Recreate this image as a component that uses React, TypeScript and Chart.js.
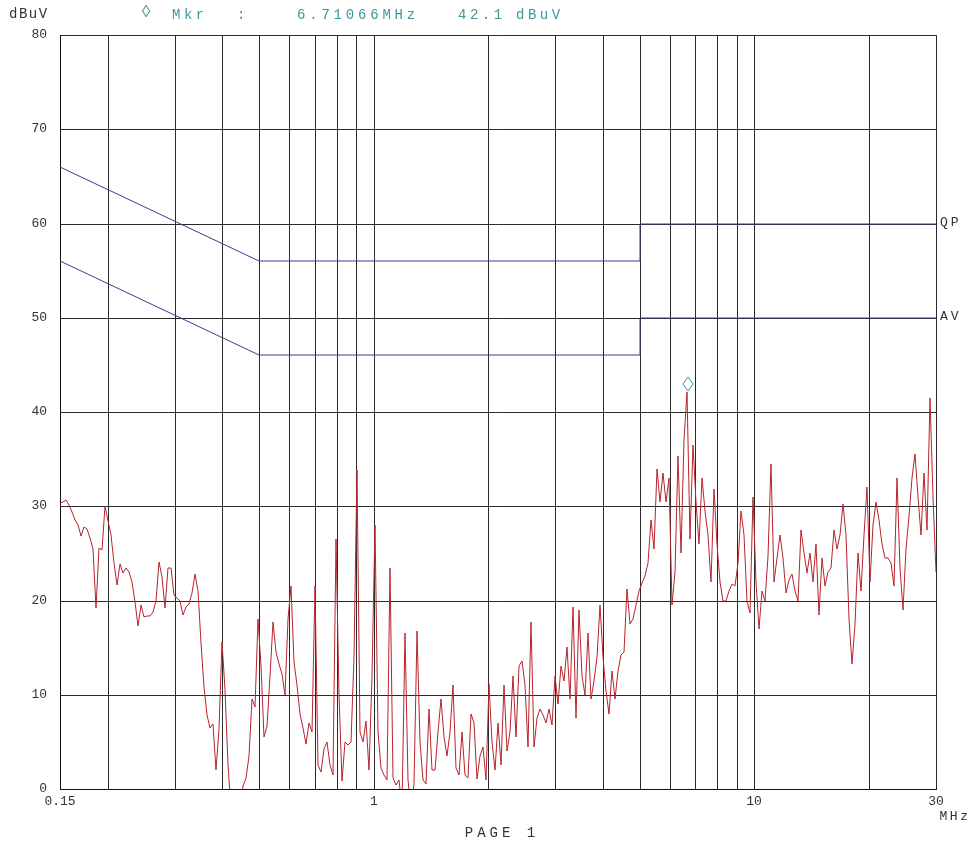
import { useEffect, useRef } from 'react';
import { Chart, registerables } from 'chart.js';

Chart.register(...registerables);

// Sweep definition of the receiver trace (log-stepped points between start and stop)
const SWEEP_START_MHZ = 0.15;
const SWEEP_STOP_MHZ = 30;

// Measured peak trace levels (dBuV), one per sweep point
const TRACE_LEVELS = [
  // 0.15 – ~0.36 MHz
  30.3, 30.5, 30.7, 30.1, 29.4, 28.5, 28.0, 26.8, 27.8, 27.6,
  26.6, 25.5, 19.2, 25.6, 25.4, 30.0, 28.4, 27.0, 24.0, 21.6,
  23.9, 22.9, 23.5, 23.0, 22.0, 19.8, 17.3, 19.5, 18.2, 18.4,
  18.4, 18.8, 20.0, 24.1, 22.5, 19.2, 23.4, 23.4, 20.6, 20.3,
  20.0, 18.5, 19.3, 19.6, 20.8, 22.8, 21.0, 15.5, 10.8,
  // ~0.37 – ~0.87 MHz
  7.8, 6.5, 6.9, 2.0, 6.4, 15.6, 10.5, 2.5, -2, -2,
  -2, -2, 0.3, 1.2, 3.5, 9.5, 8.7, 18.0, 13.0, 5.5,
  6.7, 12.0, 17.7, 14.5, 13.3, 12.2, 10.0, 18.0, 21.5, 13.5,
  11.0, 8.0, 6.5, 4.8, 7.0, 6.0, 21.5, 2.5, 1.8, 4.2,
  5.0, 2.5, 1.5, 26.5, 10.0, 0.8, 5.0, 4.7,
  // ~0.88 – ~2.1 MHz
  5.0, 14.0, 33.8, 6.0, 5.0, 7.2, 2.0, 12.0, 28.0, 6.0,
  2.2, 1.5, 1.0, 23.5, 1.2, 0.4, 1.0, -2, 16.6, 1.0,
  -2, 0.5, 16.8, 5.0, 1.0, 0.5, 8.5, 2.0, 2.0, 6.0,
  9.6, 5.5, 3.5, 6.0, 11.0, 2.2, 1.5, 6.0, 1.5, 1.2,
  8.0, 7.0, 1.1, 3.5, 4.5, 1.0, 11.1, 5.0, 2.0,
  // ~2.1 – ~5 MHz
  7.0, 2.5, 11.0, 4.0, 6.0, 12.0, 5.5, 13.0, 13.6, 11.0,
  4.5, 17.7, 4.5, 7.5, 8.5, 7.8, 7.0, 8.5, 6.8, 12.0,
  9.0, 13.0, 11.5, 15.1, 9.5, 19.3, 7.5, 19.0, 12.0, 10.0,
  16.6, 9.5, 11.5, 14.0, 19.5, 14.0, 10.4, 8.0, 12.5, 9.5,
  12.5, 14.2, 14.5, 21.2, 17.5, 18.0, 19.5, 21.0,
  // ~5 – ~12 MHz
  21.9, 22.6, 24.0, 28.5, 25.5, 34.0, 30.5, 33.5, 30.5, 33.0,
  19.5, 23.0, 35.3, 25.0, 37.0, 42.1, 26.5, 36.5, 30.4, 26.0,
  33.0, 29.5, 27.0, 22.0, 31.8, 26.0, 22.0, 20.0, 20.0, 21.0,
  21.8, 21.5, 24.0, 29.5, 27.0, 20.0, 18.7, 31.0, 22.0, 17.0,
  21.0, 20.0, 24.7, 34.5, 22.0, 24.5, 27.0, 24.5,
  // ~12 – 30 MHz
  20.8, 22.2, 22.8, 21.0, 20.0, 27.5, 25.0, 22.9, 25.0, 22.0,
  26.0, 18.5, 24.5, 21.5, 23.0, 23.5, 27.5, 25.5, 27.0, 30.2,
  27.0, 18.0, 13.3, 17.5, 25.0, 21.0, 27.0, 32.0, 22.0, 28.0,
  30.5, 28.5, 26.0, 24.5, 24.5, 24.0, 21.5, 33.0, 23.5, 19.0,
  25.5, 29.0, 33.0, 35.5, 31.0, 27.0, 33.5, 27.5, 41.5, 31.0,
  23.0,
];

// Limit lines (EN 55022 class B style)
const LIMIT_FREQ = [0.15, 0.5, 5, 5, 30];
const QP_LIMIT = [66, 56, 56, 60, 60];
const AV_LIMIT = [56, 46, 46, 50, 50];

// Marker
const MARKER_FREQ = 6.71066;
const MARKER_LEVEL = 42.1;

// Axis ticks
const X_GRID_TICKS = [
  0.15, 0.2, 0.3, 0.4, 0.5, 0.6, 0.7, 0.8, 0.9,
  1, 2, 3, 4, 5, 6, 7, 8, 9,
  10, 20, 30,
];
const X_LABELED_TICKS = [0.15, 1, 10, 30];
const Y_MIN = 0;
const Y_MAX = 80;
const Y_STEP = 10;

const MONO = "'Liberation Mono', 'DejaVu Sans Mono', monospace";
const TEAL = '#3f9898';
const TEXT = '#333333';

function sweepFrequencies(n: number): number[] {
  const out: number[] = [];
  const ratio = SWEEP_STOP_MHZ / SWEEP_START_MHZ;
  for (let i = 0; i < n; i++) out.push(SWEEP_START_MHZ * Math.pow(ratio, i / (n - 1)));
  return out;
}

const annotations = {
  id: 'emiAnnotations',
  afterDraw(chart: any) {
    const ctx = chart.ctx as CanvasRenderingContext2D;
    const xs = chart.scales.x;
    const ys = chart.scales.y;
    ctx.save();
    ctx.textBaseline = 'middle';

    const txt = (s: string, x: number, y: number, size: number, spacing: number, color: string, align: CanvasTextAlign = 'left') => {
      ctx.font = `${size}px ${MONO}`;
      (ctx as any).letterSpacing = `${spacing}px`;
      ctx.fillStyle = color;
      ctx.textAlign = align;
      ctx.fillText(s, x, y);
    };

    // header
    txt('dBuV', 9, 14, 14, 1.5, TEXT);
    txt('\u25CA', 141, 12, 17, 0, TEAL);
    txt('Mkr', 172, 15, 14, 3.5, TEAL);
    txt(':', 237, 15, 14, 0, TEAL);
    txt(`${MARKER_FREQ.toFixed(5)}MHz`, 297, 15, 14, 3.8, TEAL);
    txt(`${MARKER_LEVEL.toFixed(1)}`, 458, 15, 14, 3.5, TEAL);
    txt('dBuV', 516, 15, 14, 3.5, TEAL);

    // limit labels
    txt('QP', 940, ys.getPixelForValue(QP_LIMIT[QP_LIMIT.length - 1]) - 1, 13, 3, TEXT);
    txt('AV', 940, ys.getPixelForValue(AV_LIMIT[AV_LIMIT.length - 1]) - 1, 13, 3, TEXT);

    // unit and page
    txt('MHz', 955, 817, 13, 2.5, TEXT, 'center');
    txt('PAGE 1', 502, 833, 14, 4, TEXT, 'center');

    // marker diamond sitting on the marker level
    const mx = xs.getPixelForValue(MARKER_FREQ);
    const my = ys.getPixelForValue(MARKER_LEVEL);
    ctx.strokeStyle = TEAL;
    ctx.lineWidth = 1;
    ctx.beginPath();
    ctx.moveTo(mx, my - 1);
    ctx.lineTo(mx + 5, my - 8);
    ctx.lineTo(mx, my - 15);
    ctx.lineTo(mx - 5, my - 8);
    ctx.closePath();
    ctx.stroke();
    ctx.restore();
  },
};

export default function App() {
  const canvasRef = useRef<HTMLCanvasElement | null>(null);

  useEffect(() => {
    document.body.style.margin = '0';
    const canvas = canvasRef.current;
    if (!canvas) return;
    const freqs = sweepFrequencies(TRACE_LEVELS.length);
    const trace = TRACE_LEVELS.map((v, i) => ({ x: freqs[i], y: v }));
    const qp = LIMIT_FREQ.map((f, i) => ({ x: f, y: QP_LIMIT[i] }));
    const av = LIMIT_FREQ.map((f, i) => ({ x: f, y: AV_LIMIT[i] }));

    const chart = new Chart(canvas, {
      type: 'line',
      data: {
        datasets: [
          { label: 'QP', data: qp, borderColor: '#3b3b8e', borderWidth: 1, pointRadius: 0, tension: 0 },
          { label: 'AV', data: av, borderColor: '#3b3b8e', borderWidth: 1, pointRadius: 0, tension: 0 },
          { label: 'Trace', data: trace, borderColor: '#b8232b', borderWidth: 1, pointRadius: 0, tension: 0 },
        ],
      },
      options: {
        animation: false,
        responsive: false,
        devicePixelRatio: 1,
        parsing: false as any,
        normalized: true,
        layout: { padding: { top: 35, right: 33, left: 0, bottom: 0 } },
        plugins: { legend: { display: false }, tooltip: { enabled: false }, title: { display: false } },
        events: [],
        scales: {
          x: {
            type: 'logarithmic',
            min: SWEEP_START_MHZ,
            max: SWEEP_STOP_MHZ,
            alignToPixels: true,
            afterBuildTicks: (axis: any) => {
              axis.ticks = X_GRID_TICKS.map((v) => ({ value: v }));
            },
            afterFit: (scale: any) => {
              scale.height = 54;
            },
            grid: { color: '#2a2a2a', lineWidth: 1, drawTicks: false },
            border: { display: true, color: '#111', width: 1 },
            ticks: {
              autoSkip: false,
              maxRotation: 0,
              padding: 5,
              color: TEXT,
              font: { family: MONO, size: 13 },
              callback: (value: any) => (X_LABELED_TICKS.includes(Number(value)) ? String(value) : ''),
            },
          },
          y: {
            type: 'linear',
            min: Y_MIN,
            max: Y_MAX,
            alignToPixels: true,
            afterFit: (scale: any) => {
              scale.width = 60;
            },
            grid: { color: '#2a2a2a', lineWidth: 1, drawTicks: false },
            border: { display: true, color: '#111', width: 1 },
            ticks: {
              stepSize: Y_STEP,
              padding: 13,
              color: TEXT,
              font: { family: MONO, size: 13 },
            },
          },
        },
      },
      plugins: [annotations],
    });
    return () => chart.destroy();
  }, []);

  return (
    <div style={{ width: 969, height: 843, position: 'relative', background: '#fff' }}>
      <canvas ref={canvasRef} width={969} height={843} style={{ width: 969, height: 843, display: 'block' }} />
    </div>
  );
}
